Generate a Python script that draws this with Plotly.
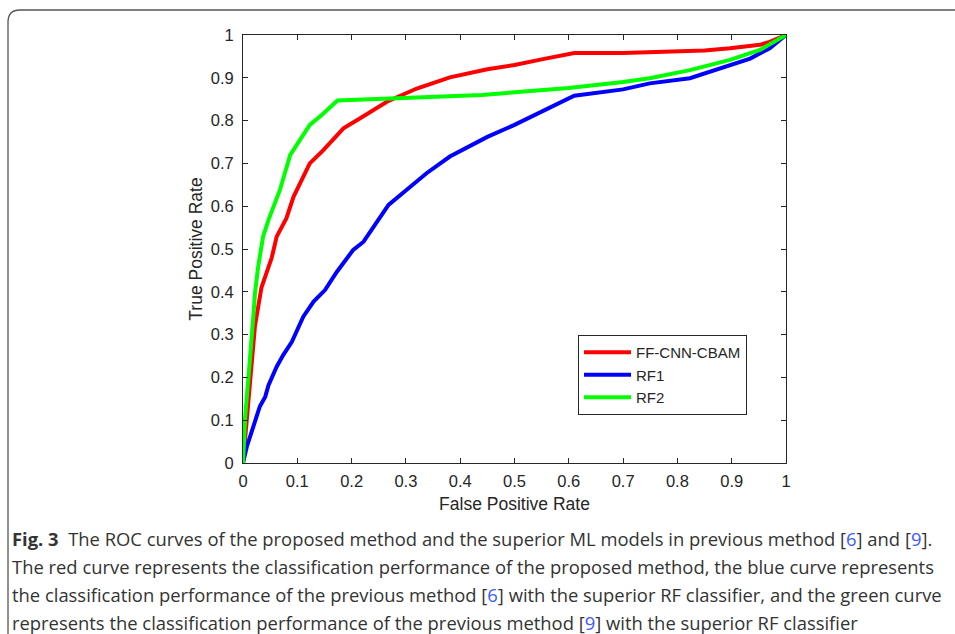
import plotly.graph_objects as go

# ---- data ----
red_fpr = [0, 0.007, 0.016, 0.022, 0.034, 0.044, 0.053, 0.062, 0.080, 0.093, 0.123, 0.148, 0.185, 0.215,
           0.265, 0.32, 0.381, 0.45, 0.5, 0.55, 0.61, 0.7, 0.75, 0.8, 0.85, 0.897, 0.952, 0.97, 1.0]
red_tpr = [0, 0.10, 0.24, 0.32, 0.41, 0.45, 0.48, 0.529, 0.572, 0.622, 0.70, 0.731, 0.782, 0.805,
           0.844, 0.875, 0.901, 0.92, 0.93, 0.943, 0.958, 0.958, 0.96, 0.962, 0.964, 0.969, 0.977, 0.984, 1.0]

blue_fpr = [0, 0.007, 0.019, 0.031, 0.041, 0.047, 0.062, 0.074, 0.090, 0.099, 0.111, 0.13, 0.151, 0.173,
            0.203, 0.222, 0.268, 0.301, 0.338, 0.381, 0.45, 0.5, 0.55, 0.61, 0.7, 0.749, 0.823, 0.872,
            0.934, 0.97, 1.0]
blue_tpr = [0, 0.038, 0.085, 0.132, 0.155, 0.182, 0.225, 0.252, 0.283, 0.307, 0.342, 0.377, 0.404, 0.447,
            0.498, 0.517, 0.603, 0.638, 0.677, 0.716, 0.762, 0.79, 0.822, 0.858, 0.873, 0.887, 0.899, 0.92,
            0.945, 0.969, 1.0]

green_fpr = [0, 0.004, 0.010, 0.016, 0.019, 0.022, 0.028, 0.037, 0.047, 0.068, 0.087, 0.123, 0.145, 0.174,
             0.381, 0.44, 0.5, 0.6, 0.7, 0.749, 0.823, 0.897, 0.952, 1.0]
green_tpr = [0, 0.108, 0.20, 0.28, 0.342, 0.396, 0.459, 0.529, 0.568, 0.638, 0.72, 0.79, 0.813, 0.847,
             0.857, 0.86, 0.866, 0.876, 0.89, 0.899, 0.918, 0.942, 0.965, 1.0]

series_names = ["FF-CNN-CBAM", "RF1", "RF2"]
series_colors = ["#ff0000", "#0000ff", "#00ff00"]
tick_vals = [0, 0.1, 0.2, 0.3, 0.4, 0.5, 0.6, 0.7, 0.8, 0.9, 1]
tick_text = ["0", "0.1", "0.2", "0.3", "0.4", "0.5", "0.6", "0.7", "0.8", "0.9", "1"]

caption_lines = [
    "<b>Fig. 3</b>  The ROC curves of the proposed method and the superior ML models in previous method "
    "[<span style='color:#3d5afe'>6</span>] and [<span style='color:#3d5afe'>9</span>].",
    "The red curve represents the classification performance of the proposed method, the blue curve represents",
    "the classification performance of the previous method [<span style='color:#3d5afe'>6</span>] with the "
    "superior RF classifier, and the green curve",
    "represents the classification performance of the previous method [<span style='color:#3d5afe'>9</span>] "
    "with the superior RF classifier",
]

# ---- layout geometry ----
W, H = 955, 634
L, R, T, B = 243, 786, 35, 463


def px(x):
    return (x - L) / (R - L)


def py(y):
    return (B - y) / (B - T)


fig = go.Figure()
for xs, ys, name, col in zip([red_fpr, blue_fpr, green_fpr], [red_tpr, blue_tpr, green_tpr],
                             series_names, series_colors):
    fig.add_trace(go.Scatter(x=xs, y=ys, mode="lines", name=name,
                             line=dict(color=col, width=4)))

axis_common = dict(
    range=[0, 1], tickvals=tick_vals, ticktext=tick_text,
    showline=True, linecolor="#262626", linewidth=1, mirror="ticks",
    ticks="inside", ticklen=5, tickcolor="#262626", tickwidth=1,
    showgrid=False, zeroline=False,
    tickfont=dict(family="Liberation Sans, Arial", size=16.5, color="#262626"),
)

fig.update_layout(
    width=W, height=H,
    margin=dict(l=L, r=W - R, t=T, b=H - B),
    paper_bgcolor="white", plot_bgcolor="white",
    xaxis=dict(axis_common, ticklabelstandoff=3,
               title=dict(text="False Positive Rate", standoff=8,
                          font=dict(family="Liberation Sans, Arial", size=17.5, color="#262626"))),
    yaxis=dict(axis_common, ticklabelstandoff=5,
               title=dict(text="True Positive Rate", standoff=3,
                          font=dict(family="Liberation Sans, Arial", size=17.5, color="#262626"))),
    legend=dict(x=px(578), y=py(335), xanchor="left", yanchor="top",
                bordercolor="#262626", borderwidth=1, bgcolor="white",
                font=dict(family="Liberation Sans, Arial", size=15, color="#262626"),
                tracegroupgap=0, itemwidth=47),
    showlegend=True,
)

# caption
for i, line in enumerate(caption_lines):
    fig.add_annotation(text=line, xref="paper", yref="paper",
                       x=px(10), y=py(538 + 28 * i), xanchor="left", yanchor="middle",
                       showarrow=False, align="left",
                       font=dict(family="Open Sans", size=18.4, color="#333333"))

# rounded frame
rad = 12
path = (f"M {px(8)},{py(640)} L {px(8)},{py(10 + rad)} "
        f"Q {px(8)},{py(10)} {px(8 + rad)},{py(10)} L {px(960)},{py(10)}")
fig.add_shape(type="path", path=path, xref="paper", yref="paper",
              line=dict(color="#555555", width=1.3))

fig.write_html("out.html")
